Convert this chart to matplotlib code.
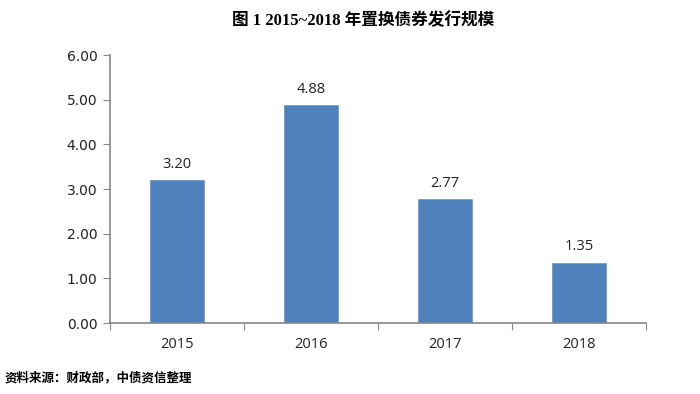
import matplotlib.pyplot as plt
import numpy as np

years = ['2015', '2016', '2017', '2018']
values = [3.20, 4.88, 2.77, 1.35]
y_ticks = [0, 1, 2, 3, 4, 5, 6]

title_text = '图 1 2015~2018 年置换债券发行规模'
source_text = '资料来源：财政部，中债资信整理'

plt.rcParams['font.family'] = ['DejaVu Sans', 'Noto Sans CJK SC']

fig = plt.figure(figsize=(7, 3.94), dpi=100)
ax = fig.add_axes([0.157, 0.180, 0.766, 0.680])

x = np.arange(len(years))
bars = ax.bar(x, values, width=0.4, color='#4F81BD', edgecolor='#6B95C9', linewidth=0.5, zorder=2)

ax.set_xlim(-0.5, len(years) - 0.5)
ax.set_ylim(0, 6)
ax.set_yticks(y_ticks)
ax.set_yticklabels([f'{v:.2f}' for v in y_ticks], fontsize=10, color='#222222')

# category labels centred, ticks between categories
ax.set_xticks(np.arange(-0.5, len(years)), minor=False)
ax.set_xticklabels([''] * (len(years) + 1))
ax.set_xticks(x, minor=True)
ax.set_xticklabels(years, minor=True, fontsize=10.5, color='#222222',
                   family=['Open Sans', 'DejaVu Sans'])
ax.tick_params(axis='x', which='minor', length=0, pad=10)
ax.tick_params(axis='x', which='major', length=5, color='#868686', direction='out')
ax.tick_params(axis='y', length=5, color='#868686', direction='out', pad=4)

for s in ['top', 'right']:
    ax.spines[s].set_visible(False)
for s in ['left', 'bottom']:
    ax.spines[s].set_color('#868686')
    ax.spines[s].set_linewidth(1.2)

ax.bar_label(bars, labels=[f'{v:.2f}' for v in values], padding=6, fontsize=10.5,
             color='#222222', family=['Open Sans', 'DejaVu Sans'])

fig.text(0.519, 0.947, title_text, ha='center', va='center', fontsize=12,
         fontweight='bold', family=['Liberation Serif', 'Noto Sans CJK SC'])
fig.text(0.007, 0.040, source_text, ha='left', va='center', fontsize=9,
         fontweight='bold', family=['Noto Sans CJK SC', 'DejaVu Sans'])

fig.savefig('out.png', dpi=100)
